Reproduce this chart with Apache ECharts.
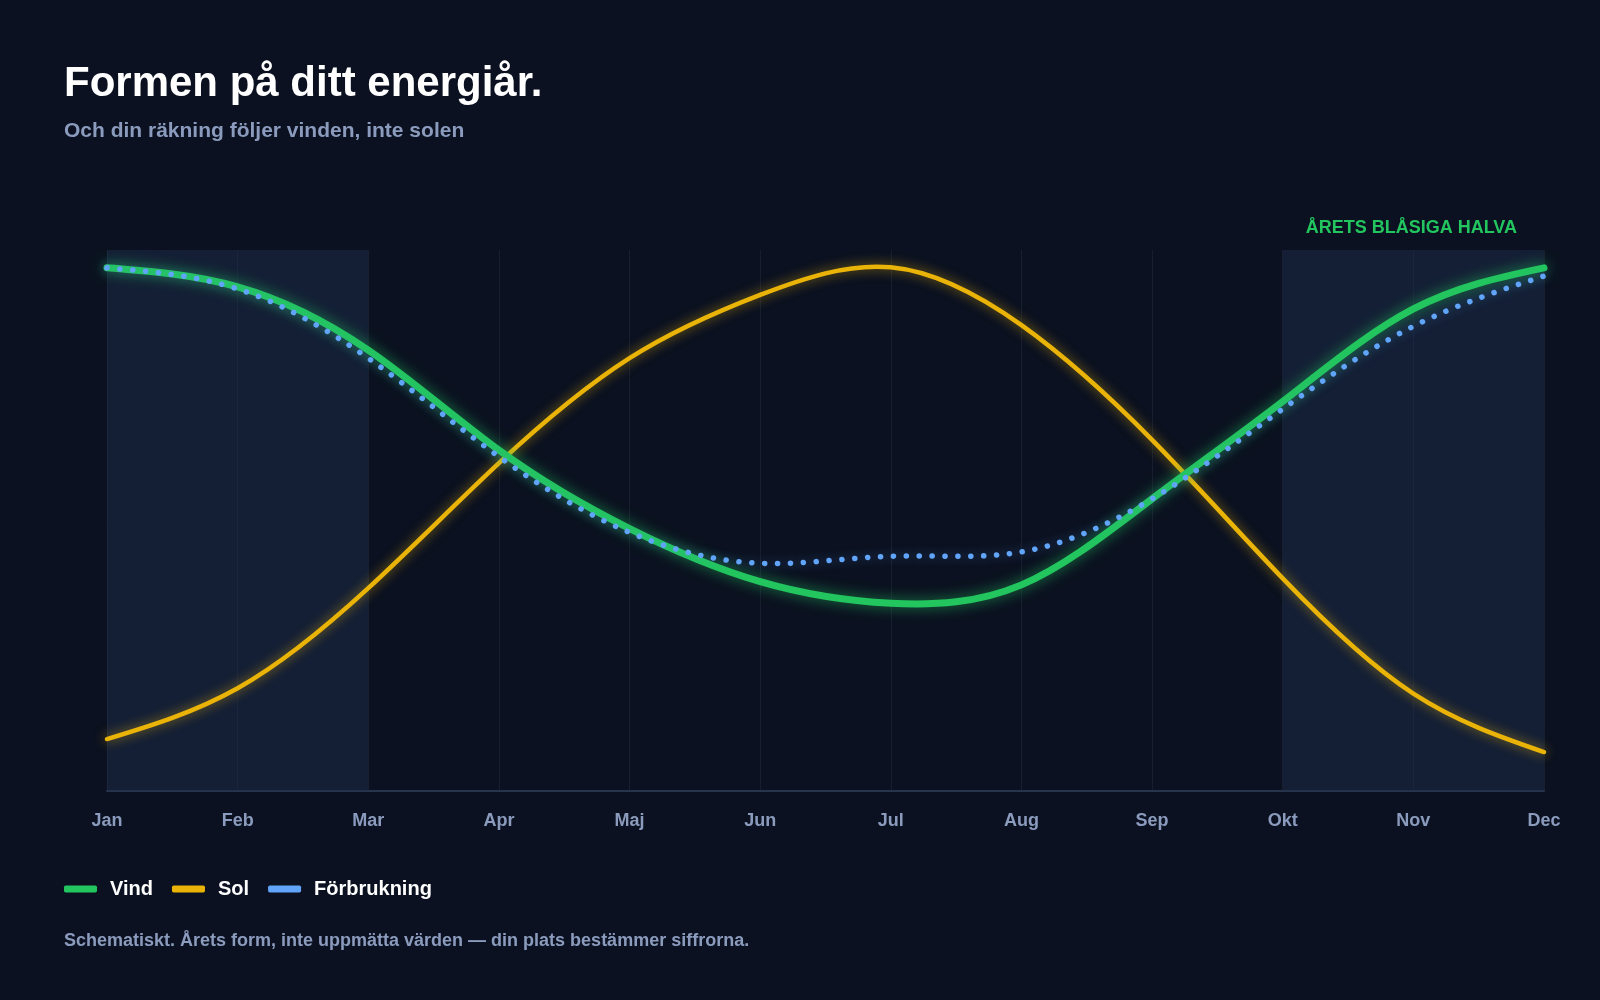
<!DOCTYPE html>
<html>
<head>
<meta charset="utf-8">
<title>Formen på ditt energiår</title>
<script src="https://cdn.jsdelivr.net/npm/echarts@6/dist/echarts.min.js"></script>
<style>
    html, body {margin: 0; padding: 0; background: #0b1120;}
    #main {width: 1600px; height: 1000px;}
</style>
</head>
<body>
<div id="main"></div>
<script>
// månader på x-axeln
const months = ['Jan', 'Feb', 'Mar', 'Apr', 'Maj', 'Jun', 'Jul', 'Aug', 'Sep', 'Okt', 'Nov', 'Dec'];

// schematiska nivåer, 0-100
const vind = [96.7, 93.2, 81.5, 63.0, 48.5, 38.7, 34.7, 38.1, 54.0, 72.0, 89.1, 96.7];
const sol = [9.6, 19.0, 37.5, 60.6, 80.0, 91.7, 96.8, 86.1, 64.9, 39.3, 18.0, 7.2];
const forbrukning = [96.7, 92.8, 80.0, 61.8, 47.8, 42.1, 43.4, 44.2, 54.0, 70.6, 85.9, 95.2];

// blåsiga perioder som skuggas
const windyBands = [['Jan', 'Mar'], ['Okt', 'Dec']];

const FONT = '"Liberation Sans", Arial, sans-serif';
const GREEN = '#22c55e';
const YELLOW = '#eab308';
const BLUE = '#60a5fa';
const MUTED = '#8b9bbd';

// naturlig kubisk spline genom punkterna (pixlar från api.coord) -> svg path
function splinePath(pts) {
    const n = pts.length - 1;
    const h = (pts[n][0] - pts[0][0]) / n;
    const y = pts.map(p => p[1]);
    // andraderivator, M0 = Mn = 0, löses med thomas-algoritmen
    const M = new Array(n + 1).fill(0);
    const c = new Array(n + 1).fill(0);
    const d = new Array(n + 1).fill(0);
    for (let i = 1; i < n; i++) {
        const rhs = 6 * (y[i + 1] - 2 * y[i] + y[i - 1]) / (h * h);
        const m = 4 - (i > 1 ? c[i - 1] : 0);
        c[i] = 1 / m;
        d[i] = (rhs - (i > 1 ? d[i - 1] : 0)) / m;
    }
    for (let i = n - 1; i >= 1; i--) {
        M[i] = d[i] - c[i] * (i < n - 1 ? M[i + 1] : 0);
    }
    const slope = i => i < n
        ? (y[i + 1] - y[i]) / h - h * (2 * M[i] + M[i + 1]) / 6
        : (y[n] - y[n - 1]) / h + h * (M[n - 1] + 2 * M[n]) / 6;
    let path = 'M' + pts[0][0] + ' ' + pts[0][1];
    for (let i = 0; i < n; i++) {
        const x0 = pts[i][0], x1 = pts[i + 1][0];
        const s0 = slope(i), s1 = slope(i + 1);
        path += ' C' + (x0 + h / 3) + ' ' + (y[i] + s0 * h / 3)
            + ' ' + (x1 - h / 3) + ' ' + (y[i + 1] - s1 * h / 3)
            + ' ' + x1 + ' ' + y[i + 1];
    }
    return path;
}

function curveSeries(name, values, z, lineStyle) {
    return {
        name: name,
        type: 'custom',
        z: z,
        itemStyle: {color: lineStyle.stroke},
        data: values.map((v, i) => [i, v]),
        renderItem: (params, api) => {
            if (params.dataIndex !== 0) return null;
            const pts = values.map((v, i) => api.coord([i, v]));
            return {
                type: 'path',
                shape: {pathData: splinePath(pts)},
                style: Object.assign({fill: null}, lineStyle),
            };
        },
    };
}

const chart = echarts.init(document.getElementById('main'));

const solSeries = curveSeries('Sol', sol, 3, {
    stroke: YELLOW, lineWidth: 4.5, lineCap: 'round',
    shadowBlur: 12, shadowColor: 'rgba(234,179,8,0.65)'
});
solSeries.markArea = {
    silent: true,
    itemStyle: {color: 'rgba(30,46,74,0.5)'},
    data: windyBands.map(b => [{xAxis: b[0]}, {xAxis: b[1]}]),
};

const option = {
    backgroundColor: '#0b1120',
    animation: false,
    textStyle: {fontFamily: FONT},
    grid: {left: 107, right: 56, top: 250, bottom: 209},
    xAxis: {
        type: 'category',
        data: months,
        boundaryGap: false,
        axisLine: {lineStyle: {color: '#28344c', width: 2}},
        axisTick: {show: false},
        axisLabel: {color: MUTED, fontSize: 18, fontWeight: 'bold', margin: 21, fontFamily: FONT},
        splitLine: {show: true, lineStyle: {color: 'rgba(148,163,184,0.09)', width: 1}},
    },
    yAxis: {
        type: 'value',
        min: 0,
        max: 100,
        show: false,
    },
    legend: {
        left: 64,
        top: 879,
        padding: 0,
        icon: 'roundRect',
        itemWidth: 33,
        itemHeight: 7,
        itemGap: 19,
        data: ['Vind', 'Sol', 'Förbrukning'],
        textStyle: {color: '#ffffff', fontSize: 20, fontWeight: 'bold', fontFamily: FONT, padding: [0, 0, 0, 8]},
    },
    graphic: [
        {
            type: 'text', left: 64, top: 63,
            style: {text: 'Formen på ditt energiår.', fill: '#ffffff', font: 'bold 42px ' + FONT},
        },
        {
            type: 'text', left: 64, top: 121,
            style: {text: 'Och din räkning följer vinden, inte solen', fill: MUTED, font: 'bold 21px ' + FONT},
        },
        {
            type: 'text', right: 83, top: 219,
            style: {text: 'ÅRETS BLÅSIGA HALVA', fill: GREEN, font: 'bold 18px ' + FONT},
        },
        {
            type: 'text', left: 64, top: 932,
            style: {
                text: 'Schematiskt. Årets form, inte uppmätta värden — din plats bestämmer siffrorna.',
                fill: MUTED, font: 'bold 18px ' + FONT
            },
        },
    ],
    series: [
        solSeries,
        curveSeries('Vind', vind, 4, {
            stroke: GREEN, lineWidth: 7, lineCap: 'round',
            shadowBlur: 14, shadowColor: 'rgba(34,197,94,0.7)'
        }),
        curveSeries('Förbrukning', forbrukning, 5, {
            stroke: BLUE, lineWidth: 5.5, lineCap: 'round', lineDash: [0.1, 12.8],
            shadowBlur: 10, shadowColor: 'rgba(96,165,250,0.45)'
        }),
    ],
};

chart.setOption(option);
</script>
</body>
</html>
